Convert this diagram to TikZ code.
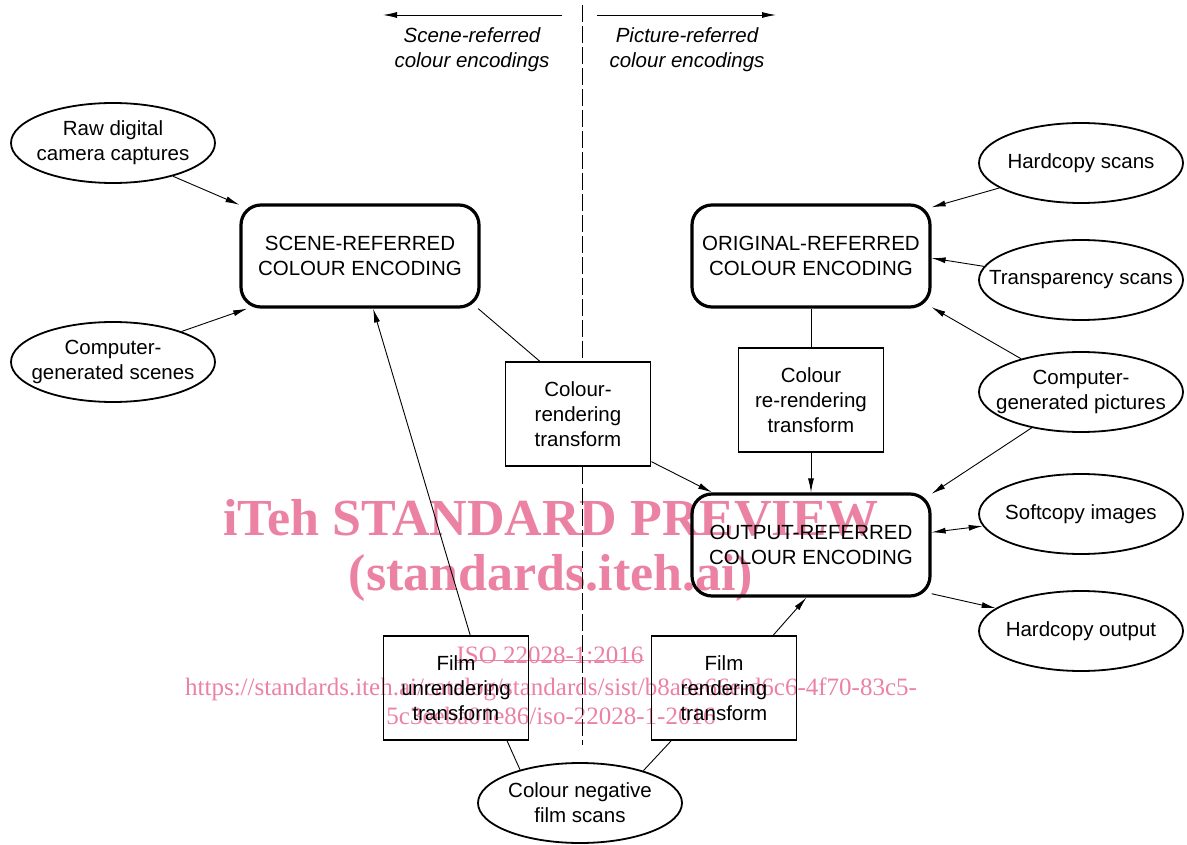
\documentclass[tikz,border=0pt]{standalone}
\usepackage{fontspec}
\setmainfont{Liberation Sans}
\newfontfamily\wmfont{Liberation Serif}
\usetikzlibrary{shapes.geometric,arrows.meta}
\definecolor{wm}{RGB}{235,130,163}
\begin{document}
\begin{tikzpicture}[x=1pt,y=-1pt,
  every node/.style={font=\fontsize{20.5}{25}\selectfont, align=center},
  enc/.style={draw, line width=3.2pt, rounded corners=20pt, minimum width=238pt, minimum height=102pt, inner sep=0pt},
  tbox/.style={draw, fill=white, line width=1.8pt, minimum width=145pt, minimum height=104pt, inner sep=0pt},
  oval/.style={draw, ellipse, line width=1.8pt, minimum width=204pt, minimum height=80pt, inner sep=0pt},
  txt/.style={inner sep=0pt},
  conn/.style={line width=0.9pt},
  arr/.style={conn, -{Latex[length=14pt,width=6pt]}},
  darr/.style={conn, {Latex[length=14pt,width=6pt]}-{Latex[length=14pt,width=6pt]}},
  wmbig/.style={text=wm, inner sep=0pt, anchor=base, font=\wmfont\bfseries\fontsize{52}{56}\selectfont},
  wmsmall/.style={text=wm, inner sep=0pt, anchor=base, font=\wmfont\fontsize{25}{28}\selectfont},
  hdr/.style={inner sep=0pt, font=\itshape\fontsize{20.5}{25}\selectfont},
  divider/.style={line width=1pt, dash pattern=on 17pt off 4pt}
]
\useasboundingbox (0,0) rectangle (1187,845);

% watermark
\node[wmbig] (wm1) at (551,535) {iTeh STANDARD PREVIEW};
\node[wmbig] (wm2) at (551,590) {(standards.iteh.ai)};
\node[wmsmall] (wm3) at (550,663) {ISO 22028-1:2016};
\draw[wm, line width=1pt] ([yshift=3pt]wm3.base west) -- ([yshift=3pt]wm3.base east);
\node[wmsmall] (wm4) at (551,695) {https://standards.iteh.ai/catalog/standards/sist/b8a9e66e-d6c6-4f70-83c5-};
\node[wmsmall] (wm5) at (551,724) {5c3eeba01e86/iso-22028-1-2016};

% header
\coordinate (divtop) at (582,5);
\coordinate (divbot) at (582,745);
\draw[divider] (divtop) -- (divbot);
\coordinate (la1) at (562,15);
\coordinate (la2) at (383,15);
\coordinate (ra1) at (597,15);
\coordinate (ra2) at (776,15);
\draw[arr] (la1) -- (la2);
\draw[arr] (ra1) -- (ra2);
\node[hdr] (hl) at (472,50) {Scene-referred\\colour encodings};
\node[hdr] (hr) at (687,50) {Picture-referred\\colour encodings};

% nodes
\node[oval] (raw) at (113,143) {};
\node[txt] (rawt) at (raw) {Raw digital\\camera captures};
\node[oval] (cgs) at (113,362) {};
\node[txt] (cgst) at (cgs) {Computer-\\generated scenes};
\node[enc] (scene) at (360,256) {SCENE-REFERRED\\COLOUR ENCODING};
\node[tbox] (crt) at (578,414) {Colour-\\rendering\\transform};
\node[enc] (orig) at (811,256) {ORIGINAL-REFERRED\\COLOUR ENCODING};
\node[tbox] (crr) at (811,400) {Colour\\re-rendering\\transform};
\node[enc] (out) at (811,545) {OUTPUT-REFERRED\\COLOUR ENCODING};
\node[oval] (hcs) at (1081,163) {};
\node[txt] (hcst) at (hcs) {Hardcopy scans};
\node[oval] (trs) at (1081,280) {};
\node[txt] (trst) at (trs) {Transparency scans};
\node[oval] (cgp) at (1081,392) {};
\node[txt] (cgpt) at (cgp) {Computer-\\generated pictures};
\node[oval] (sci) at (1081,514) {};
\node[txt] (scit) at (sci) {Softcopy images};
\node[oval] (hco) at (1081,631) {};
\node[txt] (hcot) at (hco) {Hardcopy output};
\node[tbox, fill=none] (fu) at (456,688) {Film\\unrendering\\transform};
\node[tbox, fill=none] (fr) at (724,688) {Film\\rendering\\transform};
\node[oval] (cnf) at (580,803) {};
\node[txt] (cnft) at (cnf) {Colour negative\\film scans};

% connectors
\draw[arr] (raw.-29) -- (scene.157);
\draw[arr] (cgs.24) -- (scene.205);
\draw[conn] (scene.-24) -- (crt.126);
\draw[arr] (crt.-33) -- (out.152);
\draw[conn] (orig.south) -- (crr.north);
\draw[arr] (crr.south) -- (out.north);
\draw[arr] (hcs.197) -- (orig.22);
\draw[arr] (trs.172) -- (orig.-1);
\draw[arr] (cgp.151) -- (orig.-23);
\draw[arr] (cgp.216) -- (out.23);
\draw[darr] (out.6) -- (sci.187);
\draw[arr] (out.-22) -- (hco.165);
\draw[arr] (fu.75) -- (scene.-76);
\draw[arr] (fr.47) -- (out.-95);
\draw[conn] (cnf.151) -- (fu.-46);
\draw[conn] (cnf.27) -- (fr.225);
\end{tikzpicture}
\end{document}
